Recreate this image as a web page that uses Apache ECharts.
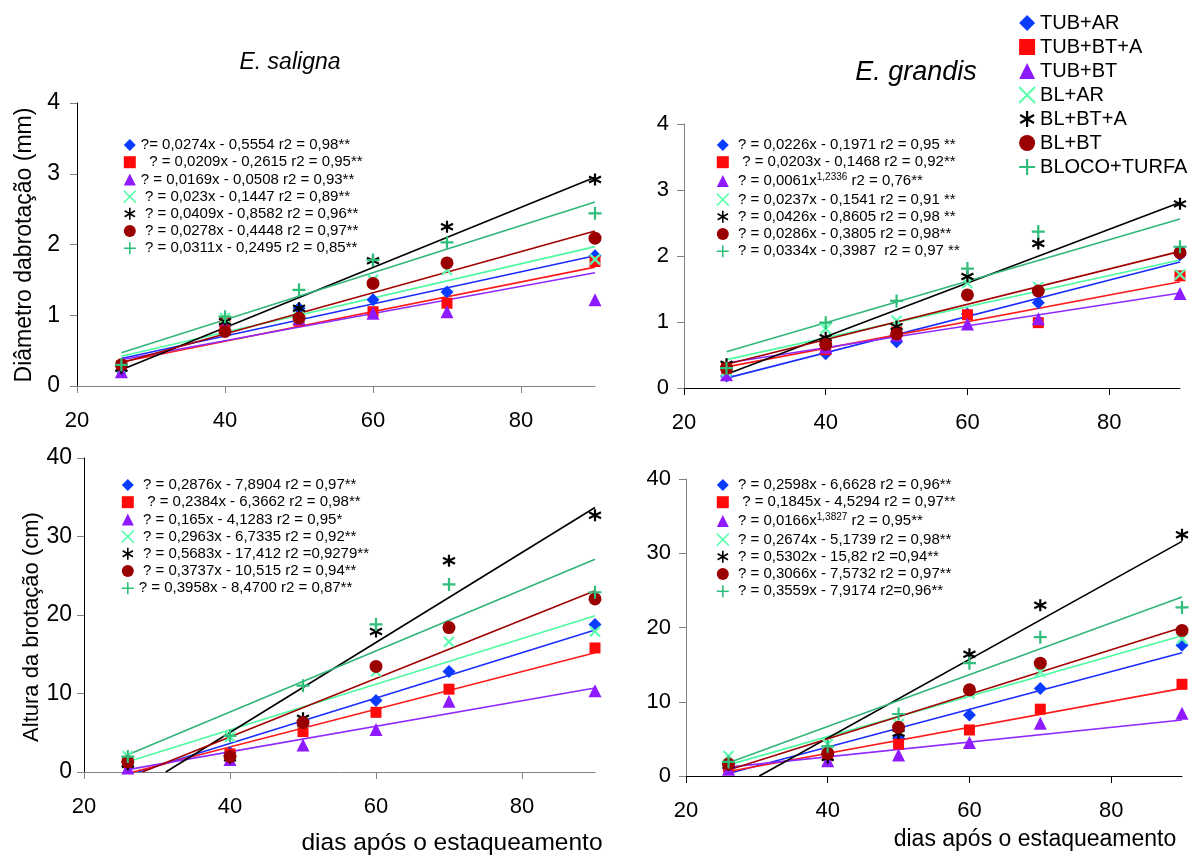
<!DOCTYPE html>
<html><head><meta charset="utf-8">
<script src="https://cdn.jsdelivr.net/npm/echarts@6/dist/echarts.min.js"></script>
<style>html,body{margin:0;padding:0;background:#fff}#c{width:1194px;height:855px}</style>
</head><body><div id="c"></div><script>
// ---------- DATA ----------
const days = [26, 40, 50, 60, 70, 90];
const treatments = ['TUB+AR', 'TUB+BT+A', 'TUB+BT', 'BL+AR', 'BL+BT+A', 'BL+BT', 'BLOCO+TURFA'];
const xTicks = [20, 40, 60, 80];
const diamTicks = [0, 1, 2, 3, 4];
const heightTicks = [0, 10, 20, 30, 40];

// E. saligna – diameter (mm), one row per treatment, values at days[]
const salignaDiameter = [
  [0.22, 0.85, 1.10, 1.22, 1.33, 1.84],
  [0.28, 0.90, 0.92, 1.05, 1.17, 1.76],
  [0.20, 0.85, 0.95, 1.03, 1.05, 1.22],
  [0.27, 0.96, 0.97, 1.50, 1.64, 1.79],
  [0.25, 0.91, 1.10, 1.77, 2.25, 2.92],
  [0.30, 0.77, 0.96, 1.45, 1.74, 2.09],
  [0.30, 0.98, 1.36, 1.78, 2.03, 2.44]
];
// E. grandis – diameter (mm)
const grandisDiameter = [
  [0.18, 0.52, 0.70, 1.12, 1.29, 2.02],
  [0.30, 0.58, 0.85, 1.11, 0.99, 1.70],
  [0.20, 0.62, 0.80, 0.97, 1.05, 1.43],
  [0.25, 0.90, 1.02, 1.59, 1.53, 1.72],
  [0.36, 0.76, 0.93, 1.69, 2.19, 2.79],
  [0.30, 0.66, 0.82, 1.41, 1.47, 2.05],
  [0.30, 0.99, 1.32, 1.81, 2.37, 2.14]
];
// E. saligna – height (cm)
const salignaHeight = [
  [0.8, 2.5, 5.9, 9.1, 12.8, 18.8],
  [1.2, 2.3, 5.15, 7.6, 10.55, 15.8],
  [0.5, 1.6, 3.45, 5.4, 9.0, 10.35],
  [2.0, 4.5, 6.3, 12.8, 16.6, 17.9],
  [1.0, 1.8, 6.85, 17.9, 26.9, 32.7],
  [1.3, 1.96, 6.3, 13.45, 18.4, 22.05],
  [1.96, 4.6, 11.0, 18.8, 23.9, 22.9]
];
// E. grandis – height (cm)
const grandisHeight = [
  [1.0, 3.0, 5.07, 8.2, 11.8, 17.6],
  [1.25, 2.8, 4.3, 6.2, 9.0, 12.35],
  [0.9, 2.06, 2.83, 4.5, 7.1, 8.45],
  [2.7, 4.3, 7.0, 11.1, 14.0, 18.5],
  [1.5, 2.5, 5.75, 16.4, 23.0, 32.5],
  [1.6, 3.05, 6.55, 11.6, 15.2, 19.6],
  [1.9, 4.0, 8.35, 15.2, 18.7, 22.7]
];

// fitted trend lines as [start, end] points [day, value]
const salignaDiameterFits = [
  [[26, 0.39], [90, 1.84]], [[26, 0.34], [90, 1.68]], [[26, 0.37], [90, 1.60]],
  [[26, 0.42], [90, 1.97]], [[26, 0.23], [90, 2.95]], [[26, 0.33], [90, 2.19]],
  [[26, 0.47], [90, 2.60]]
];
const grandisDiameterFits = [
  [[26, 0.15], [90, 1.91]], [[26, 0.32], [90, 1.61]], [[26, 0.38], [90, 1.44]],
  [[26, 0.43], [90, 1.94]], [[26, 0.21], [90, 2.81]], [[26, 0.36], [90, 2.07]],
  [[26, 0.55], [90, 2.56]]
];
const salignaHeightFits = [
  [[27.4, 0], [90, 18.1]], [[26.7, 0], [90, 15.2]], [[26, 0.3], [90, 10.7]],
  [[26, 1.3], [90, 19.9]], [[31.2, 0], [90, 33.7]], [[28, 0], [90, 23.1]],
  [[26, 2.2], [90, 27.1]]
];
const grandisHeightFits = [
  [[26, 0.35], [90, 16.6]], [[26, 0.6], [90, 11.8]], [[26, 1.2], [90, 7.55]],
  [[26, 1.5], [90, 18.9]], [[30.35, 0], [90, 31.6]], [[26, 0.8], [90, 20.0]],
  [[26, 1.8], [90, 24.1]]
];

// regression equations (text), ^...^ marks a superscript
const salignaDiameterEq = [
  '?= 0,0274x - 0,5554 r2 = 0,98**',
  '  ? = 0,0209x - 0,2615 r2 = 0,95**',
  '? = 0,0169x - 0,0508 r2 = 0,93**',
  ' ? = 0,023x - 0,1447 r2 = 0,89**',
  ' ? = 0,0409x - 0,8582 r2 = 0,96**',
  ' ? = 0,0278x - 0,4448 r2 = 0,97**',
  ' ? = 0,0311x - 0,2495 r2 = 0,85**'
];
const grandisDiameterEq = [
  ' ? = 0,0226x - 0,1971 r2 = 0,95 **',
  '  ? = 0,0203x - 0,1468 r2 = 0,92**',
  ' ? = 0,0061x^1,2336^ r2 = 0,76**',
  ' ? = 0,0237x - 0,1541 r2 = 0,91 **',
  ' ? = 0,0426x - 0,8605 r2 = 0,98 **',
  ' ? = 0,0286x - 0,3805 r2 = 0,98**',
  ' ? = 0,0334x - 0,3987  r2 = 0,97 **'
];
const salignaHeightEq = [
  ' ? = 0,2876x - 7,8904 r2 = 0,97**',
  '  ? = 0,2384x - 6,3662 r2 = 0,98**',
  ' ? = 0,165x - 4,1283 r2 = 0,95*',
  ' ? = 0,2963x - 6,7335 r2 = 0,92**',
  ' ? = 0,5683x - 17,412 r2 =0,9279**',
  ' ? = 0,3737x - 10,515 r2 = 0,94**',
  '? = 0,3958x - 8,4700 r2 = 0,87**'
];
const grandisHeightEq = [
  ' ? = 0,2598x - 6,6628 r2 = 0,96**',
  '  ? = 0,1845x - 4,5294 r2 = 0,97**',
  ' ? = 0,0166x^1,3827^ r2 = 0,95**',
  ' ? = 0,2674x - 5,1739 r2 = 0,98**',
  ' ? = 0,5302x - 15,82 r2 =0,94**',
  ' ? = 0,3066x - 7,5732 r2 = 0,97**',
  ' ? = 0,3559x - 7,9174 r2=0,96**'
];

// ---------- STYLE ----------
const FONT = '"Liberation Sans", Arial, sans-serif';
const pointColors = ['#0a3cff', '#ff0a0a', '#8f1aff', '#5effb0', '#000000', '#9b0000', '#2fbf7a'];
const lineColors  = ['#1a2cff', '#ff1a1a', '#8f2aff', '#4dfaa0', '#000000', '#a00000', '#30b57a'];
const symbols = [
  'diamond', 'rect', 'triangle',
  'path://M0,0L10,10M10,0L0,10',
  'path://M5,0L5,10M0.67,2.5L9.33,7.5M0.67,7.5L9.33,2.5',
  'circle',
  'path://M5,0L5,10M0,5L10,5'
];
const symbolSizes = [13, 11, 13, 10, 12, 13, 13];
const strokeSymbol = [false, false, false, true, true, false, true];

const panels = [
  {pts: salignaDiameter, fits: salignaDiameterFits, yMax: 4, yInt: 1, yTicks: diamTicks,
   grid: {left: 77, top: 103, width: 518, height: 283}, xLine: '#808080', yLine: '#000', yLabMargin: 17, ySize: 23},
  {pts: grandisDiameter, fits: grandisDiameterFits, yMax: 4, yInt: 1, yTicks: diamTicks,
   grid: {left: 684, top: 124, width: 496, height: 264}, xLine: '#000', yLine: '#808080', yLabMargin: 15, ySize: 22},
  {pts: salignaHeight, fits: salignaHeightFits, yMax: 40, yInt: 10, yTicks: heightTicks,
   grid: {left: 84, top: 458, width: 511, height: 314}, xLine: '#808080', yLine: '#000', yLabMargin: 12, ySize: 23},
  {pts: grandisHeight, fits: grandisHeightFits, yMax: 40, yInt: 10, yTicks: heightTicks,
   grid: {left: 686, top: 479, width: 496, height: 297}, xLine: '#000', yLine: '#808080', yLabMargin: 15, ySize: 22}
];
const eqSets = [salignaDiameterEq, grandisDiameterEq, salignaHeightEq, grandisHeightEq];
const eqPos = [[123, 137.5], [716, 137.5], [121, 477.5], [716, 477.5]];

// ---------- BUILD ----------
const grids = [], xAxes = [], yAxes = [], series = [];
panels.forEach((p, gi) => {
  grids.push(Object.assign({containLabel: false}, p.grid));
  xAxes.push({
    type: 'value', gridIndex: gi, min: 20, max: 90, interval: 20,
    axisLine: {onZero: false, lineStyle: {color: p.xLine, width: 1}},
    axisTick: {show: true, length: 7, customValues: xTicks, lineStyle: {color: p.xLine}},
    axisLabel: {customValues: xTicks, margin: 24, fontSize: 22, color: '#000', fontFamily: FONT},
    splitLine: {show: false}
  });
  yAxes.push({
    type: 'value', gridIndex: gi, min: 0, max: p.yMax, interval: p.yInt,
    axisLine: {show: true, onZero: false, lineStyle: {color: p.yLine, width: 1}},
    axisTick: {show: true, length: 7, customValues: p.yTicks, lineStyle: {color: '#808080'}},
    axisLabel: {customValues: p.yTicks, margin: p.yLabMargin, fontSize: p.ySize, color: '#000', fontFamily: FONT},
    splitLine: {show: false}
  });
  treatments.forEach((name, si) => {
    series.push({
      type: 'line', name: name + ' fit', xAxisIndex: gi, yAxisIndex: gi,
      data: p.fits[si], showSymbol: false, symbol: 'none', silent: true, z: 2,
      lineStyle: {color: lineColors[si], width: 1.6}
    });
  });
  treatments.forEach((name, si) => {
    const stroke = strokeSymbol[si];
    series.push({
      type: 'scatter', name: name, xAxisIndex: gi, yAxisIndex: gi,
      data: days.map((d, k) => [d, p.pts[si][k]]),
      symbol: symbols[si], symbolSize: symbolSizes[si], z: 3,
      itemStyle: stroke
        ? {color: 'rgba(0,0,0,0)', borderColor: pointColors[si], borderWidth: 2.2, opacity: 1}
        : {color: pointColors[si], opacity: 1}
    });
  });
});

const legendData = (w) => treatments.map((n, i) => strokeSymbol[i]
  ? {name: n, itemStyle: {color: 'rgba(0,0,0,0)', borderColor: pointColors[i], borderWidth: w, opacity: 1}}
  : {name: n, itemStyle: {color: pointColors[i], borderWidth: 0, opacity: 1}});

const legends = [{
  orient: 'vertical', left: 1018, top: 13, itemWidth: 16, itemHeight: 16, itemGap: 4,
  selectedMode: false, padding: 0, data: legendData(2.2),
  textStyle: {fontSize: 20, lineHeight: 20, color: '#000', fontFamily: FONT}
}];
eqSets.forEach((eqs, li) => {
  legends.push({
    orient: 'vertical', left: eqPos[li][0], top: eqPos[li][1], itemWidth: 12, itemHeight: 12,
    itemGap: 2.2, selectedMode: false, padding: 0, data: legendData(1.6),
    formatter: function (name) {
      const s = eqs[treatments.indexOf(name)];
      const parts = s.split('^');
      if (parts.length === 3) return parts[0] + '{s|' + parts[1] + '}' + parts[2];
      return s;
    },
    textStyle: {fontSize: 15, lineHeight: 15, color: '#000', fontFamily: FONT,
      rich: {s: {fontSize: 10, lineHeight: 7, padding: [0, 0, 8, 0], fontFamily: FONT, color: '#000'}}}
  });
});

const txt = (text, x, y, size, extra) => Object.assign({
  type: 'text', x: x, y: y,
  style: {text: text, fill: '#000', font: size + 'px ' + FONT, textAlign: 'center', textVerticalAlign: 'middle'}
}, extra || {});
const graphics = [
  txt('E. saligna', 290, 63, 23, {style: {text: 'E. saligna', fill: '#000', font: 'italic 23px ' + FONT, textAlign: 'center', textVerticalAlign: 'middle'}}),
  txt('E. grandis', 916, 72, 27, {style: {text: 'E. grandis', fill: '#000', font: 'italic 27px ' + FONT, textAlign: 'center', textVerticalAlign: 'middle'}}),
  txt('Diâmetro dabrotação (mm)', 25, 245, 23, {rotation: Math.PI / 2}),
  txt('Altura da brotação (cm)', 32, 627, 22, {rotation: Math.PI / 2}),
  txt('dias após o estaqueamento', 452, 843, 24.5),
  txt('dias após o estaqueamento', 1035, 840, 23)
];

const chart = echarts.init(document.getElementById('c'), null, {renderer: 'canvas'});
chart.setOption({
  animation: false,
  backgroundColor: '#fff',
  grid: grids, xAxis: xAxes, yAxis: yAxes,
  legend: legends, series: series, graphic: graphics
});
</script></body></html>
